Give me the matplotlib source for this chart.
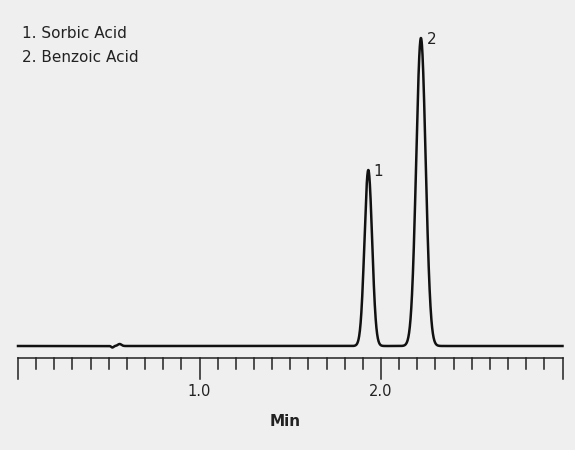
import numpy as np
import matplotlib.pyplot as plt

# peak table (retention time in min, height, width sigma in min)
peak_names = ["1. Sorbic Acid", "2. Benzoic Acid"]
peak_labels = ["1", "2"]
peak_times = [1.93, 2.22]
peak_heights = [176, 308]
peak_sigmas = [0.021, 0.026]
baseline = 104
tick_labels = {1.0: "1.0", 2.0: "2.0"}

BG = "#efefef"
fig = plt.figure(figsize=(5.75, 4.5), dpi=100, facecolor=BG)
ax = fig.add_axes([0, 0, 1, 1])
ax.set_facecolor(BG)
ax.set_xlim(-18 / 181.5, (575 - 18) / 181.5)
ax.set_ylim(0, 450)
ax.axis("off")

t = np.linspace(0, 3.0, 3000)
sig = np.full_like(t, baseline, dtype=float)
for rt, h, s in zip(peak_times, peak_heights, peak_sigmas):
    sig += h * np.exp(-0.5 * ((t - rt) / s) ** 2)
# small disturbance near 0.55 min
sig += 2.0 * np.exp(-0.5 * ((t - 0.56) / 0.01) ** 2) - 1.5 * np.exp(-0.5 * ((t - 0.52) / 0.006) ** 2)
ax.plot(t, sig, color="#111111", lw=1.8)

# time axis
axis_y = 450 - 358
ax.plot([0, 3.0], [axis_y, axis_y], color="#222222", lw=1.1)
for i in range(31):
    x = i * 0.1
    major = i % 10 == 0
    ax.plot([x, x], [axis_y, axis_y - (21 if major else 11)], color="#222222", lw=1.1)
for x, lab in tick_labels.items():
    ax.text(x, 450 - 392, lab, ha="center", va="center", fontsize=10.5, color="#222222")
ax.text(1.47, 450 - 422, "Min", ha="center", va="center", fontsize=11, fontweight="bold", color="#222222")

for i, (rt, h, lab) in enumerate(zip(peak_times, peak_heights, peak_labels)):
    ax.text(rt + 0.03, baseline + h - 2, lab, ha="left", va="center", fontsize=11, color="#222222")
for i, name in enumerate(peak_names):
    ax.text(22 / 181.5 - 18 / 181.5, 450 - 33 - 24 * i, name, ha="left", va="center",
            fontsize=11, color="#222222")

fig.savefig("out.png", dpi=100, facecolor=BG)
